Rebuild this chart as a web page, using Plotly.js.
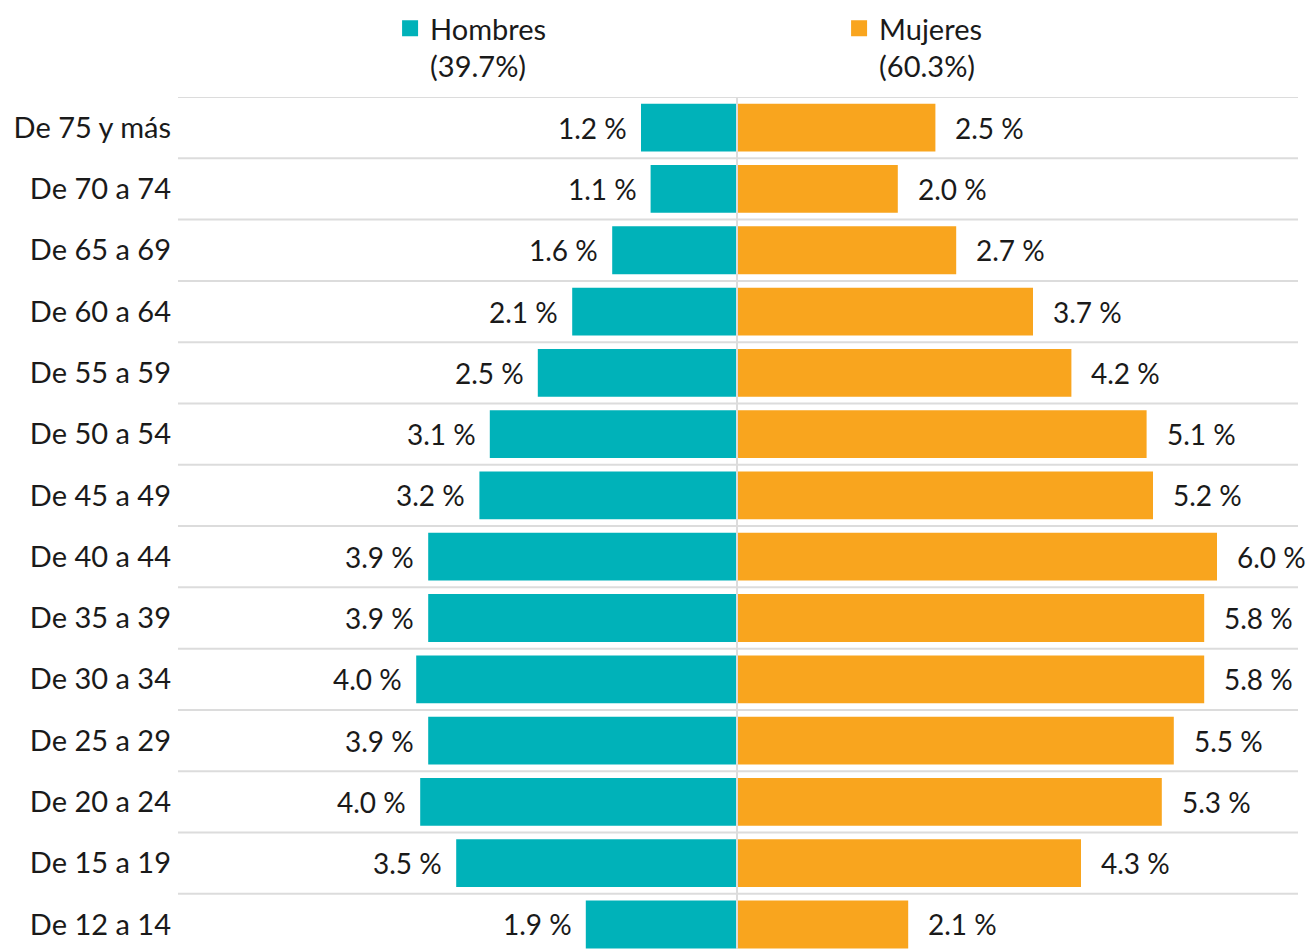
<!DOCTYPE html>
<html><head><meta charset="utf-8">
<script src="https://cdn.plot.ly/plotly-3.0.1.min.js"></script>
<style>html,body{margin:0;padding:0;background:#fff}#chart{width:1309px;height:949px}</style>
</head><body><div id="chart"></div>
<script>
// categories from bottom (youngest) to top (oldest)
const categories = ["De 12 a 14","De 15 a 19","De 20 a 24","De 25 a 29","De 30 a 34","De 35 a 39","De 40 a 44","De 45 a 49","De 50 a 54","De 55 a 59","De 60 a 64","De 65 a 69","De 70 a 74","De 75 y más"];
const hombres = [1.89, 3.51, 3.96, 3.86, 4.01, 3.86, 3.86, 3.22, 3.09, 2.49, 2.06, 1.56, 1.08, 1.20];
const mujeres = [2.14, 4.30, 5.31, 5.46, 5.84, 5.84, 6.00, 5.20, 5.12, 4.18, 3.70, 2.74, 2.01, 2.48];
const seriesNames = ["Hombres<br>(39.7%)", "Mujeres<br>(60.3%)"];
const colors = ["#00B2B9", "#F9A51E"];

const FONT = "Lato, 'Open Sans', sans-serif";
const idx = categories.map((c, i) => i);

const traces = [
  {type: "bar", orientation: "h", name: seriesNames[0], y: idx, x: hombres.map(v => -v),
   marker: {color: colors[0]}, hoverinfo: "skip", showlegend: false},
  {type: "bar", orientation: "h", name: seriesNames[1], y: idx, x: mujeres,
   marker: {color: colors[1]}, hoverinfo: "skip", showlegend: false},
  // legend entries (square swatches)
  {type: "scatter", mode: "markers", name: seriesNames[0], x: [null], y: [null],
   marker: {symbol: "square", size: 16, color: colors[0]}, showlegend: true},
  {type: "scatter", mode: "markers", name: seriesNames[1], x: [null], y: [null],
   marker: {symbol: "square", size: 16, color: colors[1]}, showlegend: true}
];

const annotations = [];
idx.forEach(i => {
  annotations.push({x: -hombres[i], y: i, xref: "x", yref: "y", text: hombres[i].toFixed(1) + " %",
    showarrow: false, xanchor: "right", xshift: -12, font: {family: FONT, size: 28, color: "#1a1a1a"}});
  annotations.push({x: mujeres[i], y: i, xref: "x", yref: "y", text: mujeres[i].toFixed(1) + " %",
    showarrow: false, xanchor: "left", xshift: 18, font: {family: FONT, size: 28, color: "#1a1a1a"}});
});

const shapes = [];
idx.forEach(i => {
  shapes.push({type: "line", xref: "paper", yref: "y", x0: 0, x1: 1, y0: i + 0.5, y1: i + 0.5,
    line: {color: "#dcdcdc", width: 2}, layer: "below"});
});
shapes.push({type: "line", xref: "x", yref: "paper", x0: 0, x1: 0, y0: 0, y1: 1,
  line: {color: "#dcdcdc", width: 2}, layer: "above"});

const layout = {
  width: 1309, height: 949,
  margin: {l: 178, r: 11, t: 97, b: 0},
  paper_bgcolor: "#fff", plot_bgcolor: "#fff",
  barmode: "overlay", bargap: 0.22,
  font: {family: FONT, size: 28, color: "#1a1a1a"},
  xaxis: {range: [-6.9875, 7.0125], showgrid: false, zeroline: false, showticklabels: false, fixedrange: true},
  yaxis: {range: [-0.4, 13.5], tickmode: "array", tickvals: idx, ticktext: categories,
    showgrid: false, zeroline: false, ticks: "", ticklabelstandoff: 6,
    tickfont: {family: FONT, size: 29, color: "#1a1a1a"}},
  showlegend: true,
  legend: {orientation: "h", xref: "container", yref: "container", x: 0.298, y: 0.997, yanchor: "top",
    xanchor: "left", entrywidth: 404, entrywidthmode: "pixels", valign: "top", traceorder: "normal",
    itemsizing: "trace",
    font: {family: FONT, size: 29, color: "#1a1a1a"}, bgcolor: "rgba(0,0,0,0)"},
  annotations: annotations,
  shapes: shapes
};

Plotly.newPlot("chart", traces, layout, {displayModeBar: false, staticPlot: true});
</script></body></html>
